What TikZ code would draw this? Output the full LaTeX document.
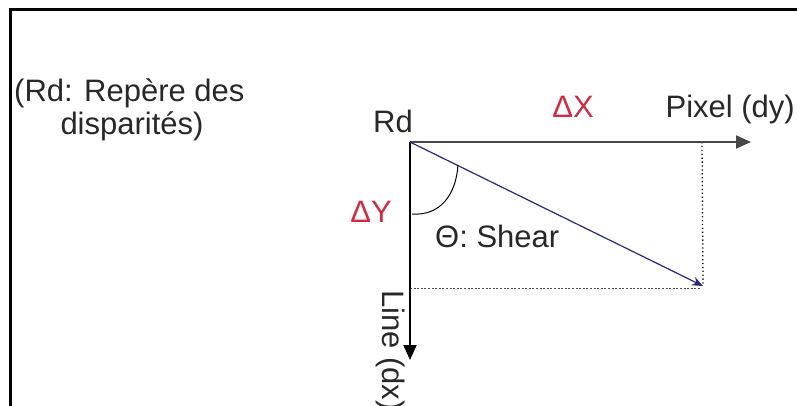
\documentclass[tikz,border=0pt]{standalone}
\usepackage{fontspec}
\setmainfont{Liberation Sans}
\usetikzlibrary{arrows.meta}
\definecolor{dred}{RGB}{205,45,65}
\definecolor{navy}{RGB}{40,40,130}
\definecolor{axgray}{RGB}{70,70,70}
\definecolor{txt}{RGB}{40,40,40}
\tikzset{
  lbl/.style={inner sep=0pt, font=\fontsize{31}{34}\selectfont, text=txt},
  rlbl/.style={lbl, text=dred},
  axis/.style={line width=2pt, -{Triangle[length=15pt,width=13pt]}},
  frame/.style={line width=3pt, black},
  dotv/.style={line width=1.3pt, dash pattern=on 1.3pt off 2.6pt, black},
  doth/.style={line width=1pt, dash pattern=on 2pt off 1.6pt, black!70},
}
\begin{document}
\begin{tikzpicture}[x=1pt,y=-1pt]
\useasboundingbox (0,0) rectangle (797,406);
% frame
\draw[frame] (10,406) -- (10,10) -- (797,10);
% coordinates
\coordinate (O) at (410,142);
\coordinate (Xend) at (751,142);
\coordinate (Yend) at (410,360);
\coordinate (P) at (703,286);
\coordinate (Px) at (702,142);
\coordinate (Py) at (410,288);
\coordinate (Pyend) at (700,288);
\coordinate (A1) at (458,165);
\coordinate (A2) at (412,214);
% dotted projections
\draw[dotv] (Px) -- (P);
\draw[doth] (Py) -- (Pyend);
% axes
\draw[axis, axgray] (O) -- (Xend);
\draw[axis, black] (O) -- (Yend);
% shear vector
\draw[navy, line width=1.2pt, -{Stealth[length=11pt,width=9pt]}] (O) -- (P);
% angle arc
\draw[black, line width=1pt] (A1) .. controls (456,195) and (440,216) .. (A2);
% labels
\node[lbl, anchor=base west] (leg1) at (14,102) {(Rd: Repère des};
\node[lbl, anchor=base] (leg2) at (132,135) {disparités)};
\node[lbl, anchor=base] (rd) at (393,133) {Rd};
\node[rlbl, anchor=base] (dx) at (573,118) {ΔX};
\node[lbl, anchor=base east] (pix) at (795,118) {Pixel (dy)};
\node[rlbl, anchor=base east] (dy) at (392,222) {ΔY};
\node[lbl, anchor=base west] (th) at (435,247) {Θ: Shear};
\node[lbl, rotate=-90, anchor=base west] (line) at (382,290) {Line (dx)};
\end{tikzpicture}
\end{document}
